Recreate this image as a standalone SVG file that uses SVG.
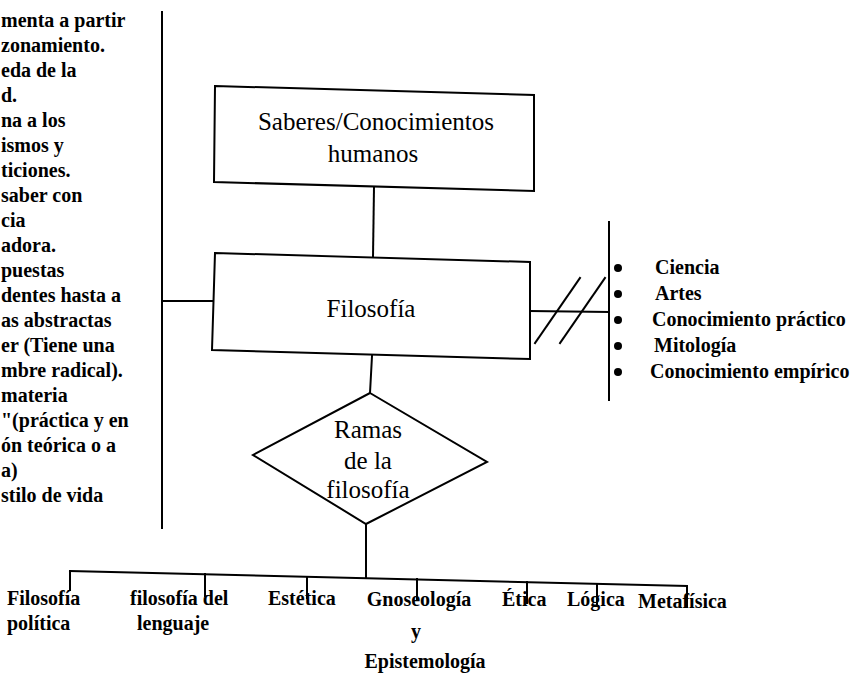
<svg xmlns="http://www.w3.org/2000/svg" width="861" height="677" viewBox="0 0 861 677">
<style>
.ln{stroke:#000;stroke-width:2;fill:none;stroke-linecap:square}
.box{stroke:#000;stroke-width:2;fill:#fff}
.big{font-family:"Liberation Serif","Times New Roman",serif;font-size:25px;fill:#000}
.sm{font-family:"Liberation Serif","Times New Roman",serif;font-size:20px;font-weight:bold;fill:#000}
.mid{text-anchor:middle}
</style>
<rect width="861" height="677" fill="#fff"/>
<g id="left-text" class="sm">
<text x="1" y="27">menta a partir</text>
<text x="1" y="52">zonamiento.</text>
<text x="1" y="77">eda de la</text>
<text x="1" y="102">d.</text>
<text x="1" y="127">na a los</text>
<text x="1" y="152">ismos y</text>
<text x="1" y="177">ticiones.</text>
<text x="1" y="202">saber con</text>
<text x="1" y="227">cia</text>
<text x="1" y="252">adora.</text>
<text x="1" y="277">puestas</text>
<text x="1" y="302">dentes hasta a</text>
<text x="1" y="327">as abstractas</text>
<text x="1" y="352">er (Tiene una</text>
<text x="1" y="377">mbre radical).</text>
<text x="1" y="402">materia</text>
<text x="1" y="427">"(práctica y en</text>
<text x="1" y="452">ón teórica o a</text>
<text x="1" y="477">a)</text>
<text x="1" y="502">stilo de vida</text>
</g>
<g id="connectors" class="ln">
<line x1="162" y1="12" x2="162" y2="528"/>
<line x1="162" y1="301" x2="213" y2="301"/>
<line x1="374" y1="187" x2="373" y2="257"/>
<line x1="372" y1="356" x2="370" y2="393"/>
<line x1="530" y1="311" x2="609" y2="312"/>
<line x1="535" y1="343" x2="580" y2="278"/>
<line x1="560" y1="343" x2="605" y2="278"/>
<line x1="609" y1="222" x2="609" y2="400"/>
<line x1="366" y1="524" x2="366" y2="578"/>
<line x1="70" y1="571" x2="687" y2="586"/>
<line x1="70" y1="571" x2="70" y2="590"/>
<line x1="205" y1="574" x2="205" y2="596"/>
<line x1="307" y1="577" x2="307" y2="598"/>
<line x1="417" y1="579" x2="417" y2="600"/>
<line x1="527" y1="582" x2="527" y2="603"/>
<line x1="597" y1="584" x2="597" y2="605"/>
<line x1="687" y1="586" x2="687" y2="607"/>
</g>
<g id="saberes">
<polygon class="box" points="215,86 534,95 534,191 214,182"/>
<text class="big mid" x="376" y="130">Saberes/Conocimientos</text>
<text class="big mid" x="373" y="162">humanos</text>
</g>
<g id="filosofia">
<polygon class="box" points="215,253 530,262 530,359 212,350"/>
<text class="big mid" x="371" y="317">Filosofía</text>
</g>
<g id="ramas">
<polygon class="box" points="370,393 487,462 366,524 253,455"/>
<text class="big mid" x="368" y="438">Ramas</text>
<text class="big mid" x="368" y="469">de la</text>
<text class="big mid" x="368" y="498">filosofía</text>
</g>
<g id="lista" class="sm">
<circle cx="618" cy="268" r="4"/>
<circle cx="618" cy="294" r="4"/>
<circle cx="618" cy="320" r="4"/>
<circle cx="618" cy="346" r="4"/>
<circle cx="618" cy="372" r="4"/>
<text x="655" y="274">Ciencia</text>
<text x="655" y="300">Artes</text>
<text x="652" y="326">Conocimiento práctico</text>
<text x="654" y="352">Mitología</text>
<text x="650" y="378">Conocimiento empírico</text>
</g>
<g id="ramas-lista" class="sm">
<text x="7" y="605">Filosofía</text>
<text x="7" y="630">política</text>
<text x="130" y="605">filosofía del</text>
<text x="137" y="630">lenguaje</text>
<text x="268" y="605">Estética</text>
<text class="mid" x="419" y="606">Gnoseología</text>
<text class="mid" x="416" y="638">y</text>
<text class="mid" x="425" y="668">Epistemología</text>
<text x="502" y="606">Ética</text>
<text x="567" y="606">Lógica</text>
<text x="638" y="608">Metafísica</text>
</g>
</svg>
